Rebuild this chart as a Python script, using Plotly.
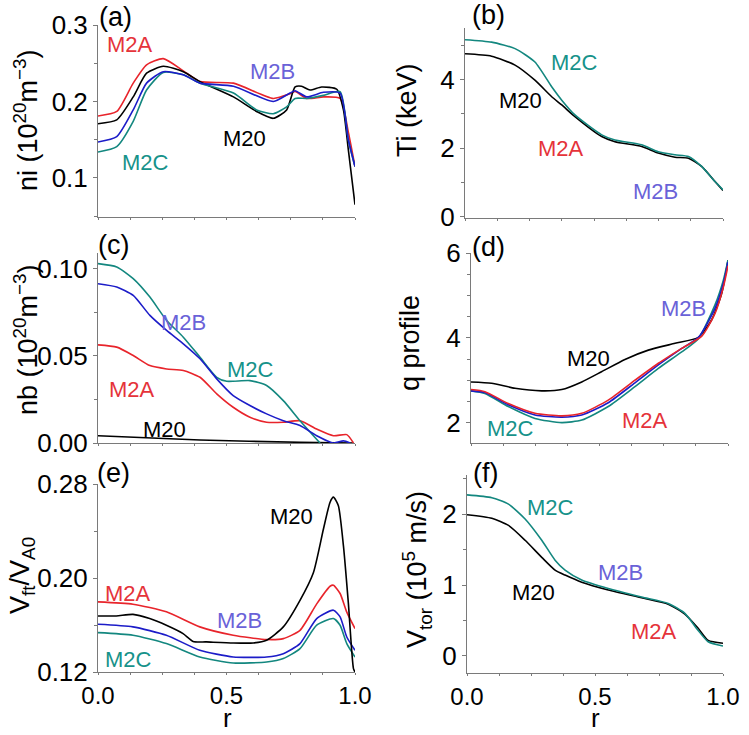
import plotly.graph_objects as go

# ---------------- data ----------------
# (a) ni
a_r_M2A = [0, 0.073, 0.137, 0.189, 0.254, 0.332, 0.397, 0.527, 0.682, 0.747, 0.767, 0.812, 0.877, 0.942, 0.974, 1.0]
a_M2A = [0.181, 0.187, 0.224, 0.248, 0.256, 0.240, 0.226, 0.224, 0.204, 0.210, 0.213, 0.204, 0.206, 0.204, 0.160, 0.115]
a_r_M20 = [0, 0.073, 0.137, 0.189, 0.254, 0.332, 0.397, 0.527, 0.617, 0.682, 0.734, 0.767, 0.792, 0.825, 0.870, 0.929, 0.955, 0.974, 1.0]
a_M20 = [0.171, 0.176, 0.206, 0.237, 0.246, 0.239, 0.226, 0.206, 0.187, 0.178, 0.189, 0.219, 0.220, 0.215, 0.219, 0.216, 0.189, 0.137, 0.065]
a_r_M2B = [0, 0.073, 0.137, 0.189, 0.254, 0.332, 0.397, 0.527, 0.682, 0.747, 0.767, 0.812, 0.877, 0.942, 0.974, 1.0]
a_M2B = [0.147, 0.154, 0.189, 0.224, 0.239, 0.235, 0.224, 0.220, 0.200, 0.211, 0.214, 0.206, 0.212, 0.211, 0.150, 0.115]
a_r_M2C = [0, 0.073, 0.137, 0.189, 0.254, 0.332, 0.397, 0.527, 0.617, 0.682, 0.734, 0.767, 0.812, 0.877, 0.942, 0.974, 1.0]
a_M2C = [0.134, 0.141, 0.174, 0.215, 0.238, 0.235, 0.224, 0.211, 0.189, 0.184, 0.193, 0.204, 0.204, 0.208, 0.213, 0.150, 0.115]

# (b) Ti
b_r = [0, 0.103, 0.194, 0.271, 0.336, 0.375, 0.426, 0.530, 0.581, 0.685, 0.749, 0.814, 0.866, 0.917, 0.969, 1.0]
b_M2C = [5.16, 5.09, 4.90, 4.51, 3.79, 3.40, 2.97, 2.39, 2.24, 2.10, 1.90, 1.81, 1.76, 1.47, 1.03, 0.79]
b_M20 = [4.75, 4.68, 4.42, 3.98, 3.50, 3.26, 2.92, 2.34, 2.19, 2.05, 1.86, 1.74, 1.71, 1.47, 1.03, 0.77]

# (c) nb
c_r_M2C = [0, 0.073, 0.137, 0.202, 0.267, 0.332, 0.397, 0.462, 0.501, 0.591, 0.656, 0.721, 0.786, 0.864]
c_M2C = [0.1029, 0.101, 0.0943, 0.0837, 0.0703, 0.0607, 0.0492, 0.0377, 0.0354, 0.0358, 0.033, 0.0243, 0.0128, 0.0]
c_r_M2B = [0, 0.073, 0.137, 0.202, 0.267, 0.332, 0.397, 0.462, 0.526, 0.591, 0.656, 0.721, 0.786, 0.851, 0.916, 0.955, 0.981]
c_M2B = [0.0914, 0.0895, 0.0847, 0.0732, 0.0646, 0.0569, 0.0483, 0.0368, 0.0272, 0.0215, 0.0167, 0.0128, 0.0100, 0.0042, 0.0, 0.0012, 0.0]
c_r_M2A = [0, 0.073, 0.137, 0.202, 0.267, 0.332, 0.397, 0.462, 0.526, 0.591, 0.656, 0.721, 0.786, 0.851, 0.916, 0.968, 0.994]
c_M2A = [0.0563, 0.055, 0.0502, 0.0444, 0.0425, 0.0416, 0.0377, 0.0282, 0.0205, 0.0148, 0.0119, 0.0119, 0.0128, 0.0080, 0.0042, 0.0048, 0.0]
c_r_M20 = [0, 0.397, 0.786, 0.994]
c_M20 = [0.0042, 0.0017, 0.0004, 0.0]

# (d) q profile
d_r_M20 = [0, 0.080, 0.171, 0.275, 0.353, 0.431, 0.508, 0.599, 0.690, 0.794, 0.885, 0.936, 0.975, 1.0]
d_M20 = [2.96, 2.93, 2.81, 2.75, 2.78, 2.96, 3.20, 3.49, 3.71, 3.87, 4.01, 4.42, 5.04, 5.83]
d_r_M2A = [0, 0.054, 0.145, 0.249, 0.353, 0.431, 0.534, 0.638, 0.729, 0.820, 0.898, 0.949, 0.982, 1.0]
d_M2A = [2.78, 2.73, 2.45, 2.22, 2.16, 2.22, 2.53, 3.00, 3.40, 3.75, 4.04, 4.57, 5.20, 5.70]
d_r_M2B = [0, 0.054, 0.145, 0.249, 0.353, 0.431, 0.534, 0.638, 0.729, 0.820, 0.885, 0.949, 0.982, 1.0]
d_M2B = [2.75, 2.71, 2.42, 2.18, 2.13, 2.18, 2.47, 2.94, 3.36, 3.75, 4.01, 4.69, 5.28, 5.79]
d_r_M2C = [0, 0.054, 0.145, 0.249, 0.353, 0.431, 0.534, 0.638, 0.729, 0.820, 0.885, 0.949, 0.982, 1.0]
d_M2C = [2.75, 2.69, 2.38, 2.10, 2.00, 2.06, 2.38, 2.85, 3.28, 3.67, 3.98, 4.77, 5.36, 5.83]

# (e) Vfi / VA0
e_r_M20 = [0, 0.071, 0.136, 0.201, 0.266, 0.331, 0.370, 0.422, 0.526, 0.604, 0.656, 0.721, 0.786, 0.838, 0.877, 0.903, 0.916, 0.935, 0.955, 0.974, 0.994, 1.0]
e_M20 = [0.1677, 0.1677, 0.1690, 0.1655, 0.1598, 0.1527, 0.1460, 0.1456, 0.1447, 0.1447, 0.1470, 0.1584, 0.1810, 0.2045, 0.2415, 0.2645, 0.2688, 0.2617, 0.2273, 0.1790, 0.1229, 0.120]
e_r_M2A = [0, 0.136, 0.266, 0.396, 0.526, 0.656, 0.721, 0.786, 0.851, 0.903, 0.916, 0.942, 0.968, 1.0]
e_M2A = [0.1797, 0.1777, 0.1712, 0.1584, 0.1513, 0.1476, 0.1484, 0.1555, 0.1780, 0.1930, 0.1939, 0.1868, 0.1710, 0.1570]
e_r_M2B = [0, 0.136, 0.266, 0.396, 0.526, 0.656, 0.721, 0.786, 0.851, 0.916, 0.942, 0.968, 1.0]
e_M2B = [0.1606, 0.1584, 0.1513, 0.1385, 0.1328, 0.1328, 0.1356, 0.1442, 0.1655, 0.1726, 0.1669, 0.1498, 0.1385]
e_r_M2C = [0, 0.136, 0.266, 0.396, 0.526, 0.656, 0.721, 0.786, 0.851, 0.916, 0.942, 0.968, 1.0]
e_M2C = [0.1535, 0.1513, 0.1442, 0.1328, 0.1277, 0.1285, 0.1314, 0.1399, 0.1598, 0.1655, 0.1598, 0.1442, 0.1328]

# (f) Vtor
f_r = [0, 0.097, 0.162, 0.227, 0.292, 0.344, 0.383, 0.448, 0.552, 0.682, 0.786, 0.851, 0.903, 0.942, 1.0]
f_M2C = [2.27, 2.23, 2.14, 1.93, 1.63, 1.35, 1.21, 1.07, 0.95, 0.83, 0.74, 0.60, 0.36, 0.20, 0.14]
f_M20 = [1.99, 1.94, 1.84, 1.63, 1.39, 1.21, 1.14, 1.04, 0.93, 0.82, 0.73, 0.59, 0.39, 0.22, 0.18]

# curve labels: (panel, text, r, value)
labels = [
    (1, "M2A", 0.125, 0.274), (1, "M2B", 0.68, 0.239), (1, "M20", 0.57, 0.152), (1, "M2C", 0.183, 0.120),
    (2, "M2C", 0.426, 4.51), (2, "M20", 0.217, 3.40), (2, "M2A", 0.372, 2.00), (2, "M2B", 0.74, 0.74),
    (3, "M2B", 0.332, 0.0693), (3, "M2C", 0.594, 0.042), (3, "M2A", 0.131, 0.0305), (3, "M20", 0.26, 0.0075),
    (4, "M2B", 0.826, 4.69), (4, "M20", 0.457, 3.51), (4, "M2A", 0.677, 2.06), (4, "M2C", 0.152, 1.87),
    (5, "M20", 0.753, 0.252), (5, "M2A", 0.117, 0.1868), (5, "M2B", 0.552, 0.164), (5, "M2C", 0.117, 0.1305),
    (6, "M2C", 0.327, 2.09), (6, "M2B", 0.601, 1.17), (6, "M20", 0.26, 0.90), (6, "M2A", 0.73, 0.34),
]
panel_letters = ["(a)", "(b)", "(c)", "(d)", "(e)", "(f)"]
y_titles = ["ni (10<sup>20</sup>m<sup>−3</sup>)", "Ti (keV)", "nb (10<sup>20</sup>m<sup>−3</sup>)",
            "q profile", "V<sub>ft</sub>/V<sub>A0</sub>", "V<sub>tor</sub> (10<sup>5</sup> m/s)"]
x_tick_vals = [0.0, 0.5, 1.0]
x_tick_text = ["0.0", "0.5", "1.0"]

# ---------------- style ----------------
W, H = 749, 735
LINE_COL = {"M2A": "#e8242b", "M2B": "#1c1cc8", "M2C": "#13877f", "M20": "#000000"}
LABEL_COL = {"M2A": "#e5333a", "M2B": "#6a62d8", "M2C": "#17928a", "M20": "#000000"}
FONT = "Arial, Liberation Sans, sans-serif"

def px(x): return x / W
def py(y): return 1 - y / H

# pixel boxes (left, right, top, bottom)
boxes = {
    1: (98, 355, 25, 217), 2: (465, 723, 28, 218),
    3: (98, 355, 253, 443), 4: (471, 728, 253, 443),
    5: (98, 355, 484, 672), 6: (467, 723, 475, 673),
}
yranges = {1: [0.049, 0.30], 2: [-0.03, 5.5], 3: [0.0, 0.109], 4: [1.52, 6.0], 5: [0.12, 0.28], 6: [-0.24, 2.55]}
ydticks = {1: 0.1, 2: 2, 3: 0.05, 4: 2, 5: 0.08, 6: 1}
ytick0 = {1: 0.1, 2: 0, 3: 0, 4: 2, 5: 0.12, 6: 0}
yminor = {1: 0.05, 2: 1, 3: 0.025, 4: 0.5, 5: 0.04, 6: 0.5}
yfmt = {1: ".1f", 2: "d", 3: ".2f", 4: "d", 5: ".2f", 6: "d"}

fig = go.Figure()

def add(panel, r, v, name):
    sfx = "" if panel == 1 else str(panel)
    fig.add_trace(go.Scatter(x=r, y=v, mode="lines", line=dict(color=LINE_COL[name], width=1.6, shape="spline", smoothing=0.6),
                             xaxis="x" + sfx, yaxis="y" + sfx, showlegend=False, hoverinfo="skip"))

add(1, a_r_M2A, a_M2A, "M2A"); add(1, a_r_M20, a_M20, "M20"); add(1, a_r_M2C, a_M2C, "M2C"); add(1, a_r_M2B, a_M2B, "M2B")
add(2, b_r, b_M20, "M20"); add(2, b_r, b_M2C, "M2C")
add(3, c_r_M20, c_M20, "M20"); add(3, c_r_M2A, c_M2A, "M2A"); add(3, c_r_M2C, c_M2C, "M2C"); add(3, c_r_M2B, c_M2B, "M2B")
add(4, d_r_M20, d_M20, "M20"); add(4, d_r_M2C, d_M2C, "M2C"); add(4, d_r_M2B, d_M2B, "M2B"); add(4, d_r_M2A, d_M2A, "M2A")
add(5, e_r_M2C, e_M2C, "M2C"); add(5, e_r_M2B, e_M2B, "M2B"); add(5, e_r_M2A, e_M2A, "M2A"); add(5, e_r_M20, e_M20, "M20")
add(6, f_r, f_M20, "M20"); add(6, f_r, f_M2C, "M2C")

layout = dict(width=W, height=H, margin=dict(l=0, r=0, t=0, b=0, pad=0, autoexpand=False),
              paper_bgcolor="white", plot_bgcolor="white",
              font=dict(family=FONT, color="black"), showlegend=False)
annotations = []
for p in range(1, 7):
    l, r, t, b = boxes[p]
    sfx = "" if p == 1 else str(p)
    show_x = p in (5, 6)
    layout["xaxis" + sfx] = dict(
        domain=[px(l), px(r)], anchor="y" + sfx, range=[0, 1.0], showline=True, linecolor="#7a7a7a", linewidth=1,
        ticks="outside", ticklen=2, tickcolor="#7a7a7a", tickvals=x_tick_vals, ticktext=x_tick_text,
        showticklabels=show_x, tickfont=dict(size=24, family=FONT), showgrid=False, zeroline=False, automargin=False,
        minor=dict(dtick=0.125, tick0=0, ticks="outside", ticklen=2, tickcolor="#7a7a7a"))
    layout["yaxis" + sfx] = dict(
        domain=[py(b), py(t)], anchor="x" + sfx, range=yranges[p], showline=True, linecolor="#7a7a7a", linewidth=1,
        ticks="outside", ticklen=4, tickcolor="#7a7a7a", dtick=ydticks[p], tick0=ytick0[p], tickformat=yfmt[p],
        tickfont=dict(size=26, family=FONT), showgrid=False, zeroline=False, automargin=False,
        minor=dict(dtick=yminor[p], tick0=ytick0[p], ticks="outside", ticklen=3, tickcolor="#7a7a7a"))

for (p, txt, rx, vy) in labels:
    sfx = "" if p == 1 else str(p)
    annotations.append(dict(x=rx, y=vy, xref="x" + sfx, yref="y" + sfx, text=txt, showarrow=False,
                            xanchor="center", yanchor="middle",
                            font=dict(size=22, color=LABEL_COL[txt], family=FONT)))

letter_pos = [(115, 17), (489, 15), (113, 245), (489, 247), (113, 473), (485, 473)]
for txt, (x, y) in zip(panel_letters, letter_pos):
    annotations.append(dict(x=px(x), y=py(y), xref="paper", yref="paper", text=txt, showarrow=False,
                            xanchor="center", yanchor="middle", font=dict(size=27, family=FONT)))

title_pos = [(26, 120), (407, 110), (26, 340), (410, 343), (22, 576), (417, 570)]
for txt, (x, y) in zip(y_titles, title_pos):
    annotations.append(dict(x=px(x), y=py(y), xref="paper", yref="paper", text=txt, showarrow=False, textangle=-90,
                            xanchor="center", yanchor="middle", font=dict(size=27, family=FONT)))

for x in (227, 595):
    annotations.append(dict(x=px(x), y=0, xref="paper", yref="paper", text="r", showarrow=False,
                            xanchor="center", yanchor="bottom", yshift=0, font=dict(size=26, family=FONT)))

layout["annotations"] = annotations
fig.update_layout(**layout)
fig.write_html("out.html")
